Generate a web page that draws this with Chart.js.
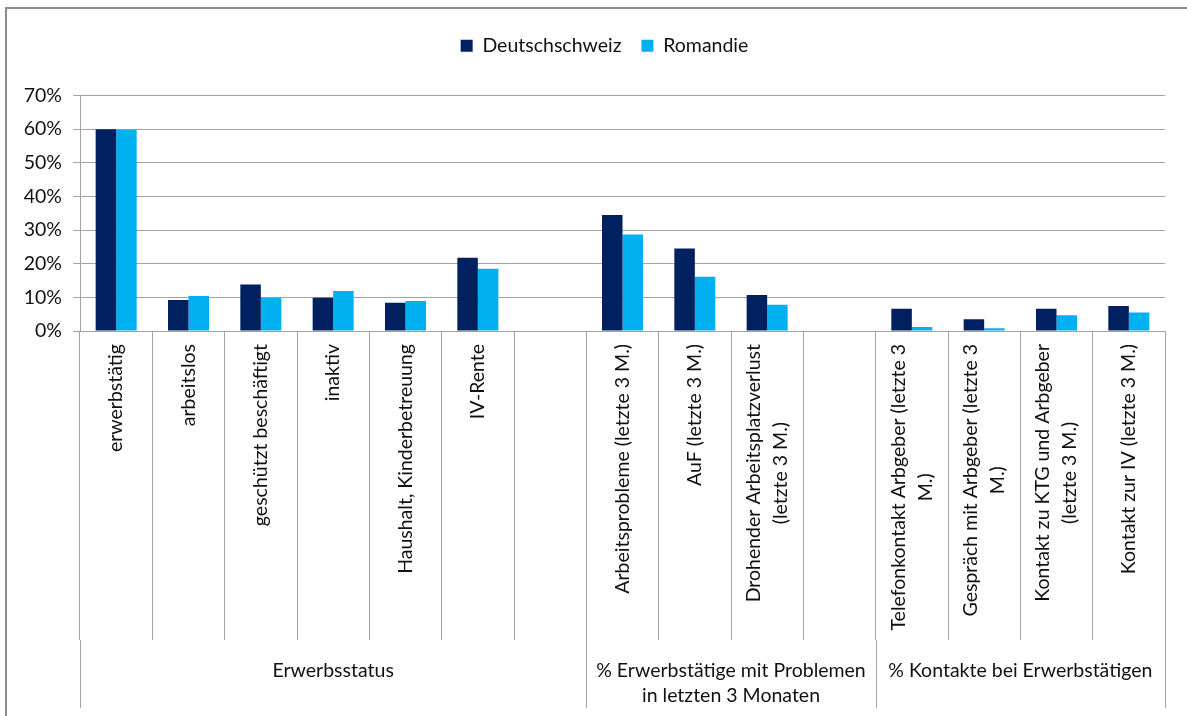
<!DOCTYPE html>
<html>
<head>
<meta charset="utf-8">
<script src="https://cdn.jsdelivr.net/npm/chart.js@4.4.1/dist/chart.umd.min.js"></script>
<style>
  html, body { margin: 0; padding: 0; background: #fff; }
  #wrap { position: relative; width: 1187px; height: 716px; overflow: hidden; }
  #frame { position: absolute; left: 5px; top: 7px; width: 1400px; height: 900px;
           border-top: 2px solid #8c8c8c; border-left: 2px solid #8c8c8c; pointer-events: none; }
</style>
</head>
<body>
<div id="wrap">
  <canvas id="c" width="1187" height="716"></canvas>
  <div id="frame"></div>
</div>
<script>
// ---- data ----
const categoryLines = [
  ['erwerbstätig'],
  ['arbeitslos'],
  ['geschützt beschäftigt'],
  ['inaktiv'],
  ['Haushalt, Kinderbetreuung'],
  ['IV-Rente'],
  [],
  ['Arbeitsprobleme (letzte 3 M.)'],
  ['AuF (letzte 3 M.)'],
  ['Drohender Arbeitsplatzverlust', '(letzte 3 M.)'],
  [],
  ['Telefonkontakt Arbgeber (letzte 3', 'M.)'],
  ['Gespräch mit Arbgeber (letzte 3', 'M.)'],
  ['Kontakt zu KTG und Arbgeber', '(letzte 3 M.)'],
  ['Kontakt zur IV (letzte 3 M.)']
];
const categories = categoryLines.map(l => l.join(' '));
const deutschschweiz = [60.0, 9.2, 13.8, 9.9, 8.4, 21.8, null, 34.5, 24.5, 10.7, null, 6.6, 3.5, 6.6, 7.4];
const romandie       = [59.8, 10.4, 9.9, 11.9, 8.9, 18.5, null, 28.7, 16.1, 7.8, null, 1.2, 0.8, 4.7, 5.5];
const groupLabels = [['Erwerbsstatus'], ['% Erwerbstätige mit Problemen', 'in letzten 3 Monaten'], ['% Kontakte bei Erwerbstätigen']];
const groupFrom = [0, 7, 11];
const groupTo   = [6, 10, 14];
const yTicks = [0, 10, 20, 30, 40, 50, 60, 70];

// ---- style ----
const FONT_FAMILY = 'Lato, "Open Sans", sans-serif';
const FONT_SIZE = 19.5;
const TEXT = '#111';
const GRID = '#a3a3a3';
const DARK = '#002060';
const LIGHT = '#00B0F0';

const labelPlugin = {
  id: 'catLabels',
  afterDraw(chart) {
    const ctx = chart.ctx, xs = chart.scales.x, area = chart.chartArea;
    ctx.save();
    ctx.font = FONT_SIZE + 'px ' + FONT_FAMILY;
    ctx.fillStyle = TEXT;
    const lh = 27;
    categoryLines.forEach((lines, i) => {
      if (!lines.length) return;
      const x = xs.getPixelForValue(i);
      const w = Math.max(...lines.map(l => ctx.measureText(l).width));
      ctx.save();
      ctx.translate(x, area.bottom + 13);
      ctx.rotate(-Math.PI / 2);
      ctx.textAlign = 'center';
      ctx.textBaseline = 'middle';
      lines.forEach((l, j) => ctx.fillText(l, -w / 2, (j - (lines.length - 1) / 2) * lh));
      ctx.restore();
    });
    const half = (xs.getPixelForValue(1) - xs.getPixelForValue(0)) / 2;
    const tickBottom = area.bottom + xs.options.grid.tickLength;
    ctx.strokeStyle = GRID;
    ctx.lineWidth = 1;
    groupLabels.forEach((lines, g) => {
      const l = xs.getPixelForValue(groupFrom[g]) - half;
      const r = xs.getPixelForValue(groupTo[g]) + half;
      [l, r].forEach(px => {
        const ax = Math.round(px) + 0.5;
        ctx.beginPath(); ctx.moveTo(ax, tickBottom); ctx.lineTo(ax, tickBottom + 68); ctx.stroke();
      });
      ctx.textAlign = 'center';
      ctx.textBaseline = 'alphabetic';
      lines.forEach((t, j) => ctx.fillText(t, (l + r) / 2, area.bottom + 346 + j * 25));
    });
    ctx.restore();
  }
};

const legendPlugin = {
  id: 'legendBox',
  beforeInit(chart) {
    const fit = chart.legend.fit;
    chart.legend.fit = function () {
      fit.call(this);
      this.height = 79.5;
    };
  },
  afterLayout(chart) {
    const lg = chart.legend;
    lg.left += 44;
  }
};

new Chart(document.getElementById('c'), {
  type: 'bar',
  data: {
    labels: categories,
    datasets: [
      { label: 'Deutschschweiz', data: deutschschweiz, backgroundColor: DARK, borderWidth: 0 },
      { label: 'Romandie', data: romandie, backgroundColor: LIGHT, borderWidth: 0 }
    ]
  },
  options: {
    responsive: false,
    animation: false,
    layout: { padding: { top: 16, left: 0, right: 22, bottom: 0 } },
    datasets: { bar: { categoryPercentage: 0.567, barPercentage: 1.0 } },
    plugins: {
      legend: {
        position: 'top',
        labels: {
          boxWidth: 12, boxHeight: 12, padding: 20,
          color: TEXT,
          font: { family: FONT_FAMILY, size: FONT_SIZE }
        }
      },
      tooltip: { enabled: false }
    },
    scales: {
      x: {
        type: 'category',
        offset: true,
        ticks: { display: false },
        grid: { offset: true, drawOnChartArea: false, drawTicks: true, tickLength: 309, color: GRID, lineWidth: 1 },
        border: { display: true, color: GRID },
        afterFit(s) { s.height = 385; }
      },
      y: {
        min: 0, max: 70,
        afterBuildTicks(s) { s.ticks = yTicks.map(v => ({ value: v })); },
        ticks: {
          stepSize: 10, padding: 11, color: TEXT,
          font: { family: FONT_FAMILY, size: FONT_SIZE },
          callback: v => v + '%'
        },
        grid: { color: GRID, lineWidth: 1, tickLength: 7 },
        border: { display: true, color: GRID },
        afterFit(s) { s.width = 80; }
      }
    }
  },
  plugins: [legendPlugin, labelPlugin]
});
</script>
</body>
</html>
